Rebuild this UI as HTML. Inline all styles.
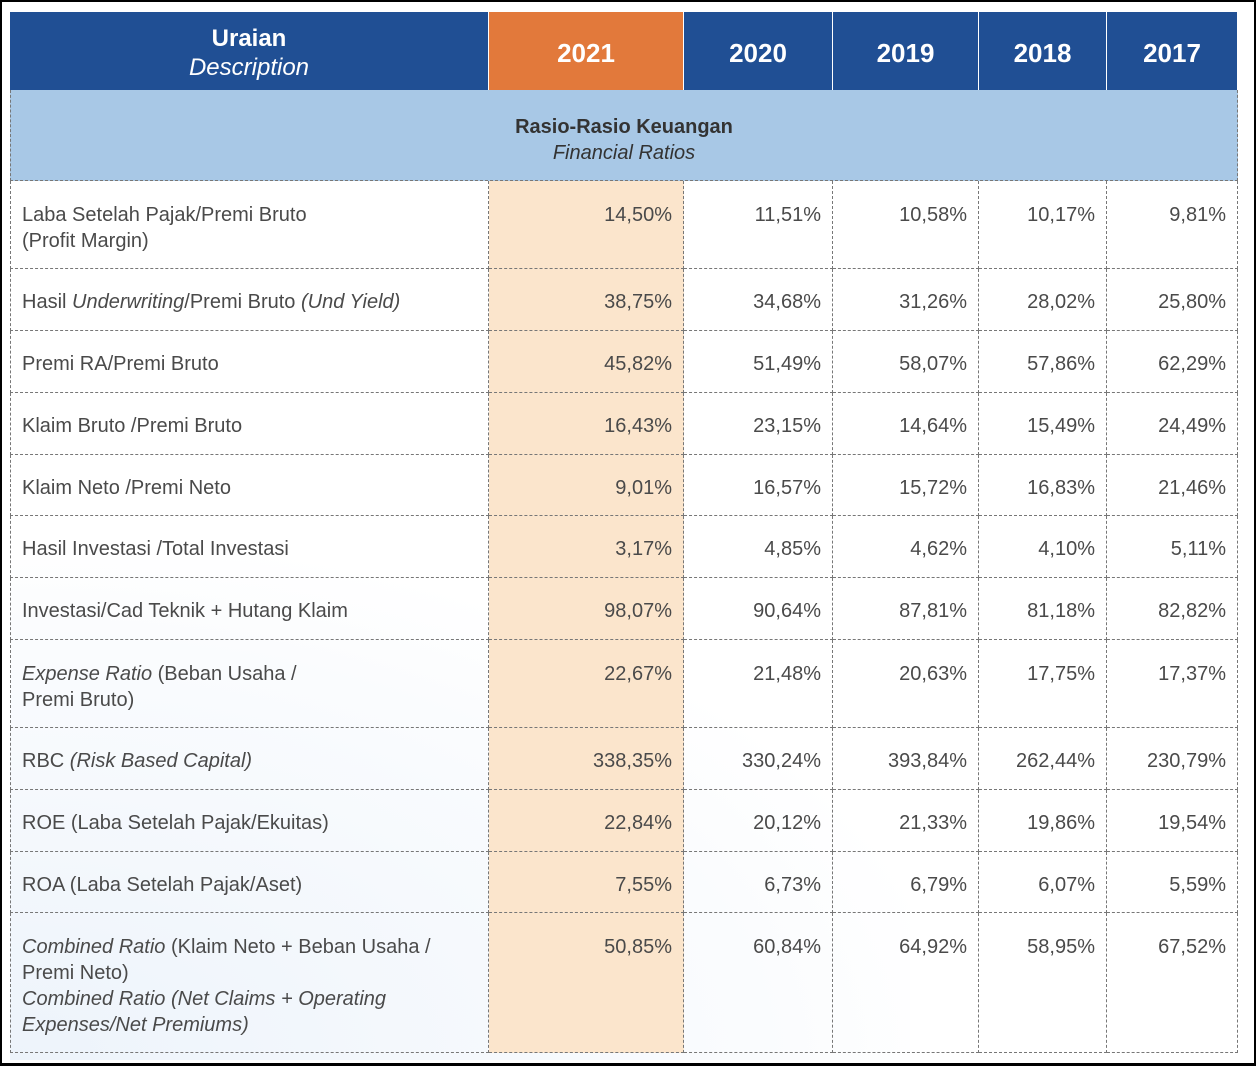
<!DOCTYPE html>
<html><head><meta charset="utf-8"><style>
html,body{margin:0;padding:0}
body{width:1256px;height:1066px;background:#fff;position:relative;overflow:hidden;font-family:"Liberation Sans",sans-serif}
.frame{position:absolute;left:0;top:0;width:1252px;height:1061px;border:2px solid #000;border-bottom-width:3px;border-right-width:2px}
.swoosh{position:absolute;left:10px;top:560px;width:900px;height:500px;background:radial-gradient(ellipse at 0% 100%,rgba(225,236,248,0.6),rgba(240,245,252,0.3) 60%,rgba(255,255,255,0) 75%)}
.c{position:absolute;box-sizing:border-box;color:#4a4a4a;font-size:20px;line-height:26px}
.h{background:#204f94;color:#fff;font-weight:bold;font-size:26px;display:flex;align-items:center;justify-content:center;border-right:1px solid #fff;padding-top:4px}
.sec{background:#a8c8e6}
.d{border-right:1px dashed #777;border-bottom:1px dashed #777}
.v{text-align:right;padding-right:11px}
.o{background:#fbe5cc}
i{font-style:italic}
</style></head><body>
<div class="frame"></div>
<div class="swoosh"></div>
<div id="t"></div>
<script>
const years=["2021","2020","2019","2018","2017"];
const cols=[10,489,684,833,979,1107,1238];
const rowsY=[181,269,331,393,455,516,578,640,728,790,852,913,1053];
const labels=["Laba Setelah Pajak/Premi Bruto<br>(Profit Margin)","Hasil <i>Underwriting</i>/Premi Bruto <i>(Und Yield)</i>","Premi RA/Premi Bruto","Klaim Bruto /Premi Bruto","Klaim Neto /Premi Neto","Hasil Investasi /Total Investasi","Investasi/Cad Teknik + Hutang Klaim","<i>Expense Ratio</i> (Beban Usaha /<br>Premi Bruto)","RBC <i>(Risk Based Capital)</i>","ROE (Laba Setelah Pajak/Ekuitas)","ROA (Laba Setelah Pajak/Aset)","<i>Combined Ratio</i> (Klaim Neto + Beban Usaha /<br>Premi Neto)<br><i>Combined Ratio (Net Claims + Operating<br>Expenses/Net Premiums)</i>"];
const v2021=["14,50%","38,75%","45,82%","16,43%","9,01%","3,17%","98,07%","22,67%","338,35%","22,84%","7,55%","50,85%"];
const v2020=["11,51%","34,68%","51,49%","23,15%","16,57%","4,85%","90,64%","21,48%","330,24%","20,12%","6,73%","60,84%"];
const v2019=["10,58%","31,26%","58,07%","14,64%","15,72%","4,62%","87,81%","20,63%","393,84%","21,33%","6,79%","64,92%"];
const v2018=["10,17%","28,02%","57,86%","15,49%","16,83%","4,10%","81,18%","17,75%","262,44%","19,86%","6,07%","58,95%"];
const v2017=["9,81%","25,80%","62,29%","24,49%","21,46%","5,11%","82,82%","17,37%","230,79%","19,54%","5,59%","67,52%"];
const vals=[v2021,v2020,v2019,v2018,v2017];
const t=document.getElementById('t');
function mk(cls,x,y,w,h,html){const e=document.createElement('div');e.className='c '+cls;e.style.left=x+'px';e.style.top=y+'px';e.style.width=w+'px';e.style.height=h+'px';e.innerHTML=html;t.appendChild(e);return e;}
let e=mk('h',cols[0],12,cols[1]-cols[0],78,'<div style="text-align:center;font-size:24px;line-height:29px">Uraian<br><span style="font-weight:normal;font-style:italic">Description</span></div>');


years.forEach((y,i)=>{const h=mk('h',cols[i+1],12,cols[i+2]-cols[i+1],78,y);if(i==0)h.style.background='#e2793b';

});
e=mk('sec d',cols[0],90,cols[6]-cols[0],91,'<div style="text-align:center;padding-top:24px;line-height:26px;color:#333"><b>Rasio-Rasio Keuangan</b><br><i>Financial Ratios</i></div>');
e.style.borderLeft='1px dashed #777';


labels.forEach((l,r)=>{const y0=rowsY[r],h=rowsY[r+1]-y0;const multi=(h>70);const pt=multi?'21px':((h-26)/2+2)+'px';
const c=mk('d',cols[0],y0,cols[1]-cols[0],h,l);c.style.padding=pt+' 0 0 11px';c.style.borderLeft='1px dashed #777';


vals.forEach((arr,i)=>{const v=mk('d v'+(i==0?' o':''),cols[i+1],y0,cols[i+2]-cols[i+1],h,arr[r]);v.style.paddingTop=pt;

});});
</script>
</body></html>
